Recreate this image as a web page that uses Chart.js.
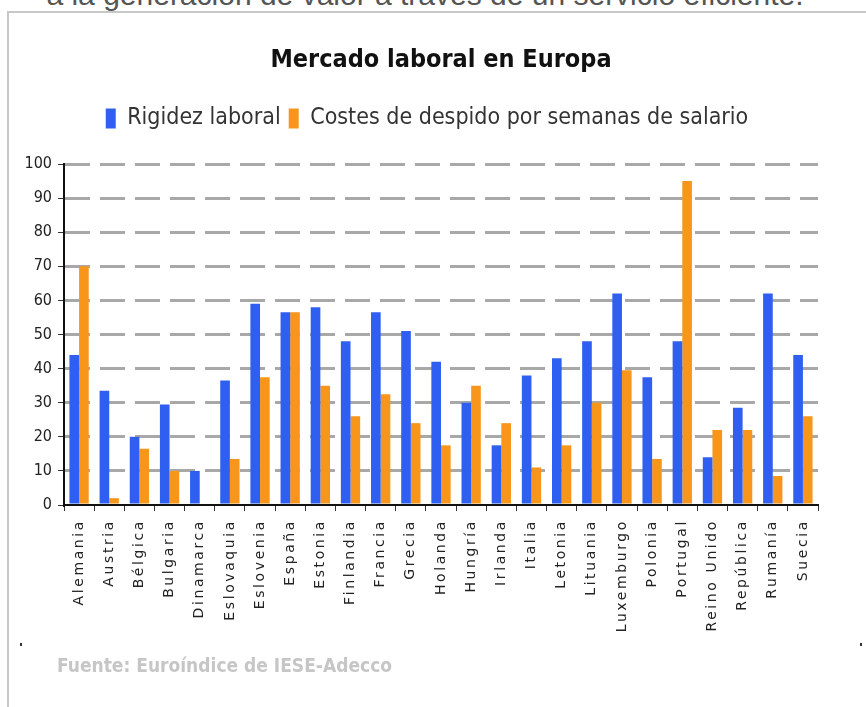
<!DOCTYPE html>
<html>
<head>
<meta charset="utf-8">
<script src="https://cdn.jsdelivr.net/npm/chart.js@4.4.0/dist/chart.umd.min.js"></script>
<style>
  html, body { margin: 0; padding: 0; background: #fff; }
  #page { position: relative; width: 866px; height: 707px; overflow: hidden; background: #fff; }
  #cut { position: absolute; left: -8px; top: -22px; width: 866px; text-align: center; line-height: 32px;
         font: 30px "Liberation Sans", Arial, sans-serif; color: #555; white-space: nowrap; }
  #frame { position: absolute; left: 7px; top: 11px; right: -2px; bottom: -2px;
           border-top: 2px solid #c8c8c8; border-left: 2px solid #c8c8c8; }
  #wrap { position: absolute; left: 0; top: 0; width: 866px; height: 707px; }
  #fuente { position: absolute; left: 57px; top: 654px; font: bold 19px "DejaVu Sans Condensed", "DejaVu Sans", sans-serif;
            color: #c6c6c6; white-space: nowrap; }
  .dot { position: absolute; width: 2px; height: 3px; background: #333; }
</style>
</head>
<body>
<div id="page">
  <div id="cut">a la generación de valor a través de un servicio eficiente.</div>
  <div id="frame"></div>
  <div id="wrap"><canvas id="chart" width="866" height="707"></canvas></div>
  <div id="fuente">Fuente: Euroíndice de IESE-Adecco</div>
  <div class="dot" style="left:20px;top:643px"></div>
  <div class="dot" style="left:860px;top:643px"></div>
</div>
<script>
// Datos
const countries = ['Alemania', 'Austria', 'Bélgica', 'Bulgaria', 'Dinamarca', 'Eslovaquia', 'Eslovenia',
  'España', 'Estonia', 'Finlandia', 'Francia', 'Grecia', 'Holanda', 'Hungría', 'Irlanda', 'Italia',
  'Letonia', 'Lituania', 'Luxemburgo', 'Polonia', 'Portugal', 'Reino Unido', 'República', 'Rumanía', 'Suecia'];
const rigidez = [44, 33.5, 20, 29.5, 10, 36.5, 59, 56.5, 58, 48, 56.5, 51, 42, 30, 17.5, 38, 43, 48, 62, 37.5, 48, 14, 28.5, 62, 44];
const costes = [70, 2, 16.5, 10, 0, 13.5, 37.5, 56.5, 35, 26, 32.5, 24, 17.5, 35, 24, 11, 17.5, 30, 39.5, 13.5, 95, 22, 22, 8.5, 26];
const yTicks = [0, 10, 20, 30, 40, 50, 60, 70, 80, 90, 100];

const narrow = '"Liberation Sans Narrow", "DejaVu Sans Condensed", "Liberation Sans", sans-serif';

// etiquetas del eje x, giradas y espaciadas como en el original
const xLabelPlugin = {
    id: 'xLabels',
    beforeInit(chart) {
        // más espacio bajo la leyenda
        const lg = chart.legend;
        if (lg) {
            const fit = lg.fit;
            lg.fit = function () { fit.call(this); this.height += 24; };
        }
    },
    afterLayout(chart) {
        // título y leyenda un poco desplazados a la derecha, como en el original
        if (chart.titleBlock) { chart.titleBlock.left += 28; chart.titleBlock.right += 28; }
        if (chart.legend) { chart.legend.left += 14; chart.legend.right += 14; }
    },
    afterDraw(chart) {
        const xs = chart.scales.x;
        const ctx = chart.ctx;
        ctx.save();
        ctx.font = '14px "DejaVu Sans", sans-serif';
        ctx.letterSpacing = '2.6px';
        ctx.fillStyle = '#222';
        ctx.textAlign = 'right';
        ctx.textBaseline = 'middle';
        countries.forEach((name, i) => {
            const x = xs.getPixelForValue(i);
            ctx.save();
            ctx.translate(x, xs.top + 14);
            ctx.rotate(-Math.PI / 2);
            ctx.fillText(name, 0, 0);
            ctx.restore();
        });
        ctx.restore();
    }
};

new Chart(document.getElementById('chart'), {
    type: 'bar',
    data: {
        labels: countries,
        datasets: [
            { label: 'Rigidez laboral', data: rigidez, backgroundColor: '#2f5ff0' },
            { label: 'Costes de despido por semanas de salario', data: costes, backgroundColor: '#f7961a' }
        ]
    },
    options: {
        responsive: false,
        animation: false,
        devicePixelRatio: 1,
        layout: { padding: { left: 8, right: 48, top: 0, bottom: 0 } },
        datasets: { bar: { categoryPercentage: 0.64, barPercentage: 1.0 } },
        plugins: {
            title: {
                display: true,
                text: 'Mercado laboral en Europa',
                color: '#111',
                font: { family: narrow, size: 25, weight: 'bold' },
                padding: { top: 45, bottom: 24 }
            },
            legend: {
                display: true,
                position: 'top',
                labels: {
                    color: '#333',
                    font: { family: narrow, size: 23 },
                    boxWidth: 10,
                    boxHeight: 20,
                    padding: 8
                }
            },
            tooltip: { enabled: false }
        },
        scales: {
            x: {
                afterFit: s => { s.height = 202; },
                grid: { display: true, drawOnChartArea: false, offset: true, color: '#333', tickLength: 6 },
                border: { color: '#111', width: 2 },
                ticks: { callback: () => '' }
            },
            y: {
                min: 0,
                max: 100,
                afterFit: s => { s.width = 56; },
                afterBuildTicks: s => { s.ticks = yTicks.map(v => ({ value: v })); },
                grid: {
                    color: ctx => ctx.tick && ctx.tick.value === 0 ? 'rgba(0,0,0,0)' : '#a8a8a8',
                    lineWidth: 3,
                    tickColor: '#333',
                    tickWidth: 1,
                    tickLength: 6,
                    tickBorderDash: []
                },
                border: { color: '#111', width: 2, dash: [25, 10] },
                ticks: { color: '#222', font: { family: narrow, size: 16 }, padding: 6 }
            }
        }
    },
    plugins: [xLabelPlugin]
});
</script>
</body>
</html>
